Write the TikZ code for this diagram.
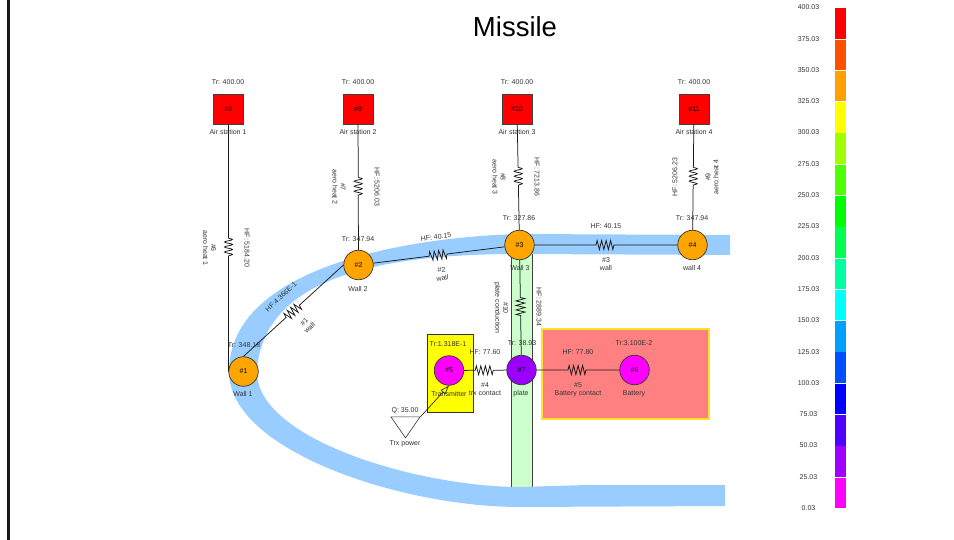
\documentclass[tikz,border=0pt]{standalone}
\usepackage{fontspec}
\setmainfont{Liberation Sans}
\usepackage{xcolor}
\definecolor{bandBlue}{HTML}{99CCFF}
\definecolor{plateGreen}{HTML}{CCFFCC}
\definecolor{boxRed}{HTML}{FF8080}
\definecolor{boxEdge}{HTML}{FFE02A}
\definecolor{boxYellow}{HTML}{FFFF00}
\definecolor{tempRed}{HTML}{FF0000}
\definecolor{tempOrange}{HTML}{FFA500}
\definecolor{tempPurple}{HTML}{9A00FF}
\definecolor{tempMagenta}{HTML}{FF00FF}
\definecolor{labelGray}{HTML}{333333}
\usetikzlibrary{arrows.meta,calc,decorations.pathmorphing,shapes.geometric}

\begin{document}
\begin{tikzpicture}[
  x=1pt,y=-1pt,
  font=\fontsize{7}{8}\selectfont,
  lbl/.style={text=labelGray,inner sep=0pt,align=center},
  station/.style={draw=black!75,fill=tempRed,minimum size=30pt,inner sep=0pt,line width=.8pt},
  mass/.style={circle,draw=black!80,minimum size=29.5pt,inner sep=0pt,line width=.7pt},
  wire/.style={black!90,line width=.75pt},
  wavy/.style={decoration={snake,segment length=5pt,amplitude=4pt}},
  jagged/.style={decoration={zigzag,segment length=4.5pt,amplitude=4.5pt}},
  seg/.style={minimum width=11pt,minimum height=30.6pt,inner sep=0pt}
]
\useasboundingbox (0,0) rectangle (954,540);
\fill[black!90] (7,0) rectangle (9.8,540);

% background bodies
\fill[plateGreen] (511,250) rectangle (532,490);
\draw[black!75,line width=1pt] (511,250) -- (511,490) (532,250) -- (532,490);
\fill[bandBlue] (730,235) -- (520,234) .. controls (430,236) and (229,260) .. (229,372)
  .. controls (229,450) and (400,507) .. (520,507) -- (725,506) -- (725,485) -- (587,485) -- (520,487)
  .. controls (420,487) and (257,440) .. (257,372)
  .. controls (262,270) and (400,254) .. (520,254) -- (730,255) -- cycle;
\node[draw=black!80,fill=boxYellow,line width=1.2pt,minimum width=46pt,minimum height=78pt,inner sep=0pt] (trxbox) at (450.5,373.5) {};
\node[draw=boxEdge,fill=boxRed,line width=1.2pt,minimum width=167pt,minimum height=90pt,inner sep=0pt] (batbox) at (625.5,374) {};

% title
\node[inner sep=0pt,font=\fontsize{27.5}{30}\selectfont] (title) at (515,27) {Missile};

% stations
\node[station] (n8) at (228.5,109) {\#8};
\node[station] (n9) at (358,109) {\#9};
\node[station] (n10) at (517,109) {\#10};
\node[station] (n11) at (694,109) {\#11};

% masses
\node[mass,fill=tempOrange] (n1) at (243.5,371.5) {\#1};
\node[mass,fill=tempOrange] (n2) at (358.5,265) {\#2};
\node[mass,fill=tempOrange] (n3) at (519.5,245) {\#3};
\node[mass,fill=tempOrange] (n4) at (692.5,245) {\#4};
\node[mass,fill=tempMagenta] (n5) at (449,370.5) {\#5};
\node[mass,fill=tempMagenta] (n6) at (634.5,370) {\#6};
\node[mass,fill=tempPurple] (n7) at (521.5,370) {\#7};
\node[isosceles triangle,shape border rotate=-90,isosceles triangle stretches,draw=black!80,line width=.6pt,
      minimum width=29pt,minimum height=21pt,inner sep=0pt] (trxq) at (405.5,424.5) {};

% links
\foreach \a/\b/\r/\s in {n8.south/n1.west/r6/wavy,n9/n2/r7/wavy,n10/n3/r8/wavy,n11/n4/r9/wavy,
    n1.north/n2.west/r1/jagged,n2/n3/r2/jagged,n3/n4/r3/jagged,n5/n7/r4/jagged,n7/n6/r5/jagged,n3/n7/r10/jagged} {
  \path (\a) -- coordinate (\r) (\b);
  \draw[wire] (\a) -- ($(\r)!10pt!(\a)$) decorate[\s,decorate] {-- ($(\r)!10pt!(\b)$)} -- (\b);
}
\draw[wire,line width=.6pt,-{Triangle[open,length=9pt,width=6pt]}] (trxq.left corner) -- (n5.south);

% temperatures
\node[lbl] (t8) at (228,82) {Tr: 400.00};
\node[lbl] (t9) at (358,82) {Tr: 400.00};
\node[lbl] (t10) at (517,82) {Tr: 400.00};
\node[lbl] (t11) at (694,82) {Tr: 400.00};
\node[lbl] (t1) at (244,345) {Tr: 348.18};
\node[lbl] (t2) at (358,239) {Tr: 347.94};
\node[lbl] (t3) at (519,218) {Tr: 327.86};
\node[lbl] (t4) at (692,218) {Tr: 347.94};
\node[lbl] (t5) at (448,344) {Tr:1.318E-1};
\node[lbl] (t7) at (522,343) {Tr: 38.93};
\node[lbl] (t6) at (634,343) {Tr:3.100E-2};
\node[lbl] (qtrx) at (405,411) {Q: 35.00};

% names
\node[lbl] (a8) at (228,132) {Air station 1};
\node[lbl] (a9) at (358,132) {Air station 2};
\node[lbl] (a10) at (517,132) {Air station 3};
\node[lbl] (a11) at (694,132) {Air station 4};
\node[lbl] (w1) at (243,394) {Wall 1};
\node[lbl] (w2) at (358,289) {Wall 2};
\node[lbl] (w3) at (520,268) {Wall 3};
\node[lbl] (w4) at (692,268) {wall 4};
\node[lbl] (w5) at (449,394) {Transmitter};
\node[lbl] (w7) at (521,394) {plate};
\node[lbl] (w6) at (634,394) {Battery};
\node[lbl] (ptrx) at (405,444) {Trx power};

% link labels
\node[lbl,rotate=-90] (h6) at (247,248) {HF: 5184.20};
\node[lbl,rotate=-90] (l6) at (209.5,248) {\#6\\aero heat 1};
\node[lbl,rotate=-90] (h7) at (377,187) {HF: 5206.03};
\node[lbl,rotate=-90] (l7) at (339,187) {\#7\\aero heat 2};
\node[lbl,rotate=-90] (h8) at (537,177) {HF: 7213.86};
\node[lbl,rotate=-90] (l8) at (499,177) {\#8\\aero heat 3};
\node[lbl,rotate=90] (h9) at (675,177) {HF: 5206.23};
\node[lbl,rotate=90] (l9) at (712,177) {\#9\\aero heat 4};
\node[lbl,rotate=43] (h1) at (281,297) {HF:4.366E-1};
\node[lbl,rotate=43] (l1) at (307,325) {\#1\\wall};
\node[lbl,rotate=7] (h2) at (436,237) {HF: 40.15};
\node[lbl,rotate=7] (l2) at (442,274) {\#2\\wall};
\node[lbl] (h3) at (606,226) {HF: 40.15};
\node[lbl] (l3) at (606,264) {\#3\\wall};
\node[lbl] (h4) at (485,352) {HF: 77.60};
\node[lbl] (l4) at (485,389.5) {\#4\\trx contact};
\node[lbl] (h5) at (578,352) {HF: 77.80};
\node[lbl] (l5) at (578,389.5) {\#5\\Battery contact};
\node[lbl,rotate=-90] (h10) at (539,307) {HF: 2889.34};
\node[lbl,rotate=-90] (l10) at (501,308) {\#10\\plate conduction};

% colour bar
\foreach \i/\c in {0/FF0000,1/FF5000,2/FFA000,3/FFFF00,4/A0FF00,5/50FF00,6/00FF00,7/00FF50,
    8/00FFA0,9/00FFFF,10/00A0FF,11/0050FF,12/0000FF,13/5000FF,14/A000FF,15/FF00FF} {
  \definecolor{barcol}{HTML}{\c}
  \node[seg,fill=barcol] (bar\i) at (840.5,{23.6+31.28*\i}) {};
}
\foreach \i/\v in {0/400.03,1/375.03,2/350.03,3/325.03,4/300.03,5/275.03,6/250.03,7/225.03,8/200.03,
    9/175.03,10/150.03,11/125.03,12/100.03,13/75.03,14/50.03,15/25.03,16/0.03} {
  \node[lbl] (val\i) at (808.5,{7.3+31.3*\i}) {\v};
}
\end{tikzpicture}
\end{document}
